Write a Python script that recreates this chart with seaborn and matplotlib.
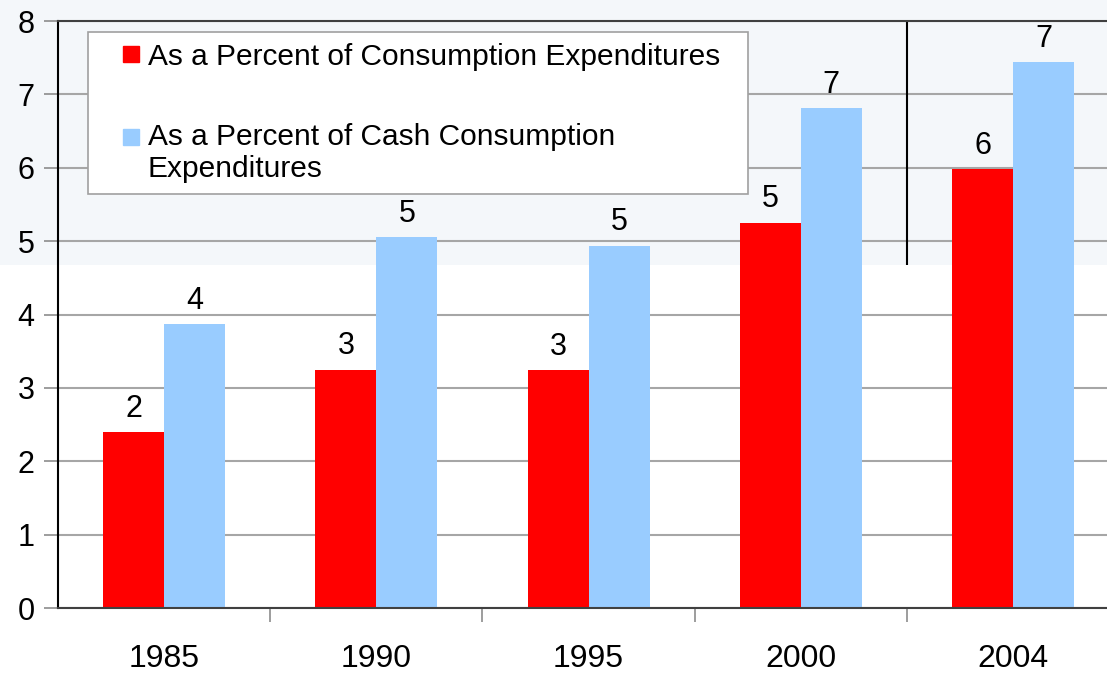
import numpy as np
import pandas as pd
import seaborn as sns
import matplotlib.pyplot as plt
from matplotlib.lines import Line2D
from matplotlib.patches import Rectangle

# Data
years = ['1985', '1990', '1995', '2000', '2004']
pct_consumption = [2.40, 3.25, 3.24, 5.25, 5.98]
pct_cash_consumption = [3.87, 5.05, 4.94, 6.81, 7.44]
series_names = ['As a Percent of Consumption Expenditures',
                'As a Percent of Cash Consumption\nExpenditures']
colors = ['#ff0000', '#99ccff']

df = pd.DataFrame({
    'year': years * 2,
    'value': pct_consumption + pct_cash_consumption,
    'series': [series_names[0]] * len(years) + [series_names[1]] * len(years),
})

sns.set_style('white')
plt.rcParams['font.family'] = ['Liberation Sans', 'DejaVu Sans']
plt.rcParams['text.color'] = 'black'
plt.rcParams['xtick.color'] = 'black'
plt.rcParams['ytick.color'] = 'black'

fig = plt.figure(figsize=(11.07, 6.74), dpi=100)
fig.patch.set_facecolor('white')
# light band across the top of the picture
fig.patches.append(Rectangle((0, 0.607), 1, 0.393, transform=fig.transFigure,
                             facecolor='#f4f7fa', edgecolor='none', zorder=-10))

ax = fig.add_axes([0.0524, 0.0979, 0.9586, 0.8709])
ax.set_facecolor('none')

sns.barplot(data=df, x='year', y='value', hue='series', palette=colors,
            width=0.575, saturation=1, ax=ax, legend=False, errorbar=None,
            linewidth=0)

for c in ax.containers:
    ax.bar_label(c, fmt='%.0f', padding=6, fontsize=22, color='black')

ax.set_ylim(0, 8)
ax.set_xlim(-0.5, 4.5)
ax.set_yticks(range(0, 9))
ax.yaxis.grid(True, color='#a6a6a6', linewidth=1.5, zorder=0)
ax.set_axisbelow(True)
ax.set_xlabel('')
ax.set_ylabel('')

ax.tick_params(axis='y', labelsize=22, length=10, width=1.2, color='#8c8c8c',
               labelcolor='black', pad=7, left=True)
ax.tick_params(axis='x', which='major', labelsize=23, length=0, pad=26,
               labelcolor='black')
ax.set_xticks([0.5, 1.5, 2.5, 3.5], minor=True)
ax.tick_params(axis='x', which='minor', length=10, width=1.2, color='#8c8c8c',
               bottom=True)

for side in ['left', 'top', 'bottom']:
    ax.spines[side].set_visible(True)
ax.spines['left'].set_color('black')
ax.spines['left'].set_linewidth(1.5)
ax.spines['top'].set_color('#404040')
ax.spines['top'].set_linewidth(1.5)
ax.spines['bottom'].set_color('#404040')
ax.spines['bottom'].set_linewidth(1.5)
ax.spines['right'].set_visible(False)

# vertical separator at top between 2000 and 2004
ax.vlines(3.5, 4.67, 8, color='black', linewidth=1.5)

handles = [Line2D([], [], marker='s', linestyle='none', markersize=11,
                  markerfacecolor=col, markeredgecolor=col) for col in colors]
leg = ax.legend(handles, series_names, loc='upper left', mode='expand',
                bbox_to_anchor=(0.0795, 0.7166, 0.5962, 0.2359),
                bbox_transform=fig.transFigure,
                fontsize=21.5, frameon=True, fancybox=False, handlelength=1.98,
                handletextpad=-0.34, labelspacing=1.74, borderpad=0.36,
                borderaxespad=0)
for t in leg.get_texts():
    t.set_color('black')
    t.set_linespacing(1.2)
# nudge markers right; marker of the two-line entry sits beside the first line
for h in leg.legend_handles:
    h.set_xdata(np.asarray(h.get_xdata()) + 2.2)
h2 = leg.legend_handles[1]
h2.set_ydata(np.asarray(h2.get_ydata()) + 12)
leg.get_frame().set_edgecolor('#a0a0a0')
leg.get_frame().set_linewidth(1.2)
leg.get_frame().set_facecolor('white')
leg.get_frame().set_alpha(1)

fig.savefig('out.png', dpi=100)
